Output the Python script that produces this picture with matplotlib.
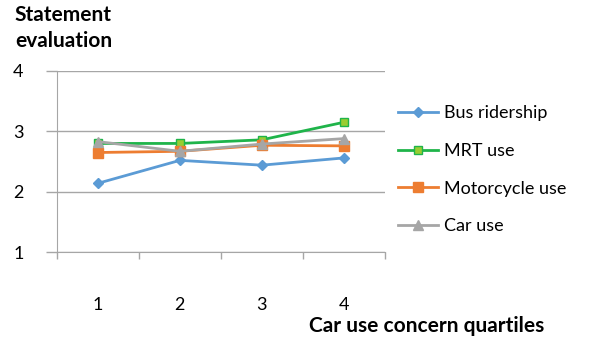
import matplotlib.pyplot as plt
import matplotlib as mpl
from matplotlib.ticker import FixedLocator

mpl.rcParams["font.family"] = ["Lato", "DejaVu Sans"]

# Mean statement evaluation per car use concern quartile
quartiles = [1, 2, 3, 4]
bus_ridership = [2.14, 2.52, 2.44, 2.56]
mrt_use = [2.80, 2.80, 2.86, 3.15]
motorcycle_use = [2.65, 2.67, 2.77, 2.76]
car_use = [2.83, 2.67, 2.79, 2.88]

fig = plt.figure(figsize=(5.98, 3.38), dpi=100)
ax = fig.add_axes([0.0953, 0.254, 0.548, 0.536])

grey = "#a6a6a6"
ax.plot(quartiles, bus_ridership, color="#5b9bd5", marker="D", markersize=5,
        linewidth=2, label="Bus ridership")
ax.plot(quartiles, mrt_use, color="#1fb44a", marker="s", markersize=6,
        markerfacecolor="#9acd32", markeredgecolor="#1fb44a", linewidth=2,
        label="MRT use")
ax.plot(quartiles, motorcycle_use, color="#ed7d31", marker="s", markersize=7,
        linewidth=2, label="Motorcycle use")
ax.plot(quartiles, car_use, color=grey, marker="^", markersize=7,
        linewidth=2, label="Car use")

ax.set_xlim(0.5, 4.5)
ax.set_ylim(1, 4)
ax.set_yticks([1, 2, 3, 4])
ax.set_xticks(quartiles)
ax.xaxis.set_minor_locator(FixedLocator([0.5, 1.5, 2.5, 3.5, 4.5]))
ax.tick_params(axis="x", which="major", length=0, pad=32, labelsize=13)
ax.tick_params(axis="x", which="minor", length=5, color=grey, width=1)
ax.tick_params(axis="y", length=8, color=grey, width=1, pad=16, labelsize=13)
ax.grid(axis="y", color=grey, linewidth=1)
ax.set_axisbelow(True)
for side in ["top", "right"]:
    ax.spines[side].set_visible(False)
for side in ["left", "bottom"]:
    ax.spines[side].set_color(grey)

fig.text(0.025, 0.985, "Statement\nevaluation", fontsize=15, fontweight="bold",
         va="top", ha="left", linespacing=1.35)
fig.text(0.714, 0.035, "Car use concern quartiles", fontsize=15,
         fontweight="bold", ha="center", va="center")

ax.legend(loc="upper left", bbox_to_anchor=(1.02, 0.85), frameon=False,
          fontsize=13, handlelength=2.2, labelspacing=1.2, handletextpad=0.3,
          borderaxespad=0)

fig.savefig("out.png", dpi=100)
